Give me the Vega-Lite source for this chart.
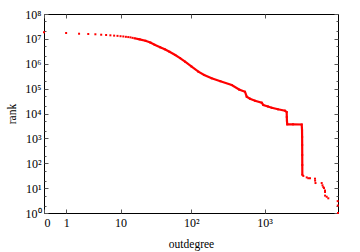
{
  "$schema": "https://vega.github.io/schema/vega-lite/v6.json",
  "width": 294,
  "height": 199,
  "autosize": "none",
  "padding": {"left": 44, "top": 14, "right": 22, "bottom": 39},
  "background": "white",
  "config": {
    "view": {"stroke": "#000", "strokeWidth": 1},
    "font": "Liberation Serif",
    "axis": {
      "domain": false, "grid": false,
      "labelFont": "Liberation Serif", "titleFont": "Liberation Serif",
      "labelFontSize": 12, "titleFontSize": 11.5, "titleFontWeight": "normal",
      "labelColor": "#000", "titleColor": "#000",
      "tickColor": "#555", "tickSize": -4, "tickWidth": 1
    }
  },
  "data": {"values": [
    {"d": 0, "rank": 18400000}, {"d": 1, "rank": 17200000}, {"d": 2, "rank": 16100000},
    {"d": 3, "rank": 15700000}, {"d": 4, "rank": 15300000}, {"d": 5, "rank": 14700000},
    {"d": 6, "rank": 14300000}, {"d": 7, "rank": 13900000}, {"d": 8, "rank": 13500000},
    {"d": 9, "rank": 13200000}, {"d": 10, "rank": 12800000}, {"d": 11, "rank": 12500000},
    {"d": 12, "rank": 12100000}, {"d": 13, "rank": 11800000}, {"d": 14, "rank": 11500000},
    {"d": 15, "rank": 11000000}, {"d": 16, "rank": 10600000}, {"d": 19, "rank": 9600000},
    {"d": 23, "rank": 8400000}, {"d": 27, "rank": 7100000}, {"d": 31, "rank": 5800000},
    {"d": 37, "rank": 4600000}, {"d": 43, "rank": 3810000}, {"d": 50, "rank": 3020000},
    {"d": 60, "rank": 2250000}, {"d": 70, "rank": 1690000}, {"d": 82, "rank": 1210000},
    {"d": 100, "rank": 783000}, {"d": 125, "rank": 479000}, {"d": 150, "rank": 354000},
    {"d": 190, "rank": 260000}, {"d": 250, "rank": 199000}, {"d": 357, "rank": 140000},
    {"d": 450, "rank": 92000}, {"d": 542, "rank": 75000}, {"d": 572, "rank": 47300},
    {"d": 634, "rank": 39400}, {"d": 742, "rank": 32700}, {"d": 915, "rank": 27200},
    {"d": 962, "rank": 22000}, {"d": 1115, "rank": 19100}, {"d": 1252, "rank": 17100},
    {"d": 1526, "rank": 14750}, {"d": 1899, "rank": 13000}, {"d": 2003, "rank": 11500},
    {"d": 2010, "rank": 7200}, {"d": 2020, "rank": 5000}, {"d": 2040, "rank": 3680},
    {"d": 2441, "rank": 3680}, {"d": 3206, "rank": 3610}, {"d": 3240, "rank": 2170},
    {"d": 3250, "rank": 1140}, {"d": 3255, "rank": 540}, {"d": 3260, "rank": 215},
    {"d": 3265, "rank": 85}, {"d": 3270, "rank": 34}, {"d": 3372, "rank": 31},
    {"d": 3751, "rank": 27}, {"d": 3943, "rank": 25}, {"d": 4158, "rank": 25},
    {"d": 4864, "rank": 24}, {"d": 4880, "rank": 20}, {"d": 4941, "rank": 16},
    {"d": 6000, "rank": 16}, {"d": 6152, "rank": 13}, {"d": 6309, "rank": 11},
    {"d": 6449, "rank": 10}, {"d": 6654, "rank": 8}, {"d": 6660, "rank": 7},
    {"d": 6670, "rank": 5}, {"d": 7018, "rank": 4.5}, {"d": 7378, "rank": 3.9},
    {"d": 9905, "rank": 3}, {"d": 9937, "rank": 2}, {"d": 9999, "rank": 1}
  ]},
  "layer": [
    {
      "mark": {"type": "point", "shape": "square", "filled": true, "size": 4, "color": "#f00", "opacity": 1},
      "encoding": {
        "x": {"field": "d", "type": "quantitative",
          "scale": {"type": "symlog", "constant": 1, "domain": [0, 9999], "nice": false},
          "axis": {"orient": "bottom", "values": [0, 1, 10, 100, 1000], "labelPadding": 8,
            "labelExpr": "datum.value == 0 ? '0' : datum.value == 1 ? '1' : datum.value == 10 ? '10' : datum.value == 100 ? '10²' : '10³'",
            "title": "outdegree", "titleX": 147, "titleY": 31, "titleBaseline": "middle", "titleAlign": "center"}},
        "y": {"field": "rank", "type": "quantitative",
          "scale": {"type": "log", "domain": [1, 100000000], "nice": false},
          "axis": {"orient": "left", "values": [1, 10, 100, 1000, 10000, 100000, 1000000, 10000000, 100000000],
            "labelPadding": 7,
            "labelExpr": "'10' + ['⁰','¹','²','³','⁴','⁵','⁶','⁷','⁸'][round(log(datum.value)/LN10)]",
            "title": "rank", "titleX": -32, "titleY": 99.5, "titleAngle": 270, "titleBaseline": "middle", "titleAlign": "center"}}
      }
    },
    {
      "transform": [{"filter": "datum.d >= 16 && datum.d <= 3300"}],
      "mark": {"type": "line", "color": "#f00", "strokeWidth": 2.2},
      "encoding": {
        "x": {"field": "d", "type": "quantitative", "scale": {"type": "symlog", "constant": 1, "domain": [0, 9999], "nice": false}, "axis": null},
        "y": {"field": "rank", "type": "quantitative", "scale": {"type": "log", "domain": [1, 100000000], "nice": false}, "axis": null}
      }
    },
    {
      "mark": {"type": "point", "opacity": 0},
      "encoding": {
        "x": {"field": "d", "type": "quantitative", "scale": {"type": "symlog", "constant": 1, "domain": [0, 9999], "nice": false},
          "axis": {"orient": "top", "values": [0, 1, 10, 100, 1000], "labels": false, "title": null}},
        "y": {"field": "rank", "type": "quantitative", "scale": {"type": "log", "domain": [1, 100000000], "nice": false},
          "axis": {"orient": "right", "values": [1, 10, 100, 1000, 10000, 100000, 1000000, 10000000, 100000000], "labels": false, "title": null}}
      }
    },
    {
      "mark": {"type": "point", "opacity": 0},
      "encoding": {
        "x": {"field": "d", "type": "quantitative", "scale": {"type": "symlog", "constant": 1, "domain": [0, 9999], "nice": false}, "axis": null},
        "y": {"field": "rank", "type": "quantitative", "scale": {"type": "log", "domain": [1, 100000000], "nice": false},
          "axis": {"orient": "left", "values": [2, 5, 20, 50, 200, 500, 2000, 5000, 20000, 50000, 200000, 500000, 2000000, 5000000, 20000000, 50000000], "labels": false, "title": null, "tickSize": -2}}
      }
    },
    {
      "mark": {"type": "point", "opacity": 0},
      "encoding": {
        "x": {"field": "d", "type": "quantitative", "scale": {"type": "symlog", "constant": 1, "domain": [0, 9999], "nice": false}, "axis": null},
        "y": {"field": "rank", "type": "quantitative", "scale": {"type": "log", "domain": [1, 100000000], "nice": false},
          "axis": {"orient": "right", "values": [2, 5, 20, 50, 200, 500, 2000, 5000, 20000, 50000, 200000, 500000, 2000000, 5000000, 20000000, 50000000], "labels": false, "title": null, "tickSize": -2}}
      }
    }
  ],
  "resolve": {"axis": {"x": "independent", "y": "independent"}}
}
